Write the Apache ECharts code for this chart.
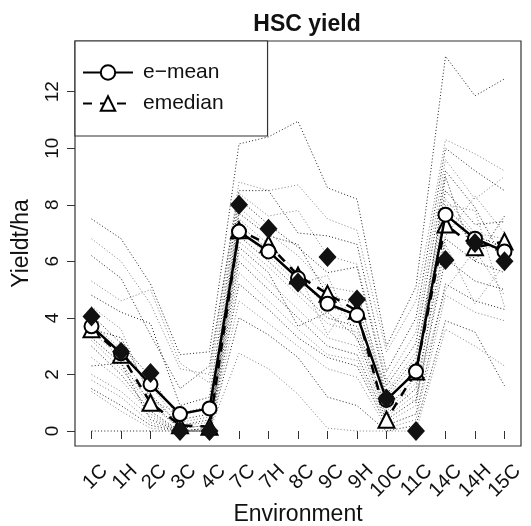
<!DOCTYPE html>
<html>
<head>
<meta charset="utf-8">
<script src="https://cdn.jsdelivr.net/npm/echarts@6/dist/echarts.min.js"></script>
<style>
html,body{margin:0;padding:0;background:#fff;}
#chart{width:531px;height:526px;}
</style>
</head>
<body>
<div id="chart"></div>
<script>
const environments = ['1C','1H','2C','3C','4C','7C','7H','8C','9C','9H','10C','11C','14C','14H','15C'];
const yTicks = [0, 2, 4, 6, 8, 10, 12];

const eMean   = [3.7, 2.75, 1.65, 0.6, 0.8, 7.05, 6.35, 5.4, 4.5, 4.1, 1.1, 2.1, 7.65, 6.8, 6.35];
const eMedian = [3.6, 2.7, 1.0, 0.2, 0.15, 7.1, 6.6, 5.5, 4.85, 4.25, 0.4, 2.1, 7.3, 6.5, 6.7];
const checkVariety = [4.05, 2.8, 2.05, 0.0, 0.0, 8.0, 7.15, 5.25, 6.15, 4.65, 1.15, 0.0, 6.05, 6.65, 6.0];

const g01 = [7.5, 6.8, 5.2, 2.7, 2.8, 10.15, 10.4, 10.95, 8.6, 8.2, 3.0, 5.1, 13.25, 11.85, 12.45];
const g02 = [6.8, 6.0, 4.5, 2.2, 2.0, 8.8, 8.5, 8.7, 7.5, 7.1, 2.8, 4.6, 10.3, 9.8, 9.2];
const g03 = [6.2, 5.4, 3.4, 1.5, 2.3, 8.5, 8.5, 7.0, 6.9, 6.6, 2.1, 4.0, 10.0, 9.2, 8.5];
const g04 = [5.3, 4.6, 5.0, 2.4, 1.7, 8.4, 7.6, 7.8, 6.2, 5.9, 1.8, 3.5, 9.6, 8.2, 9.0];
const g05 = [4.8, 4.2, 3.8, 0.9, 1.2, 8.2, 7.3, 6.5, 5.6, 5.8, 1.6, 3.1, 9.2, 7.9, 6.0];
const g06 = [4.4, 3.6, 1.1, 0.6, 0.9, 7.9, 7.0, 6.2, 5.1, 4.9, 1.4, 2.8, 6.9, 8.3, 7.0];
const g07 = [4.1, 3.1, 1.9, 0.4, 0.6, 7.7, 6.9, 6.6, 4.8, 4.5, 1.3, 2.6, 8.5, 7.3, 7.4];
const g08 = [3.8, 2.9, 1.6, 0.3, 0.5, 7.5, 6.6, 5.6, 3.4, 5.0, 1.2, 2.4, 8.2, 7.0, 6.8];
const g09 = [3.6, 3.3, 1.3, 0.2, 0.4, 7.3, 6.4, 5.4, 4.4, 4.1, 1.0, 2.2, 7.9, 6.9, 6.5];
const g10 = [3.5, 2.6, 1.2, 0.2, 0.3, 7.1, 6.2, 5.2, 5.5, 3.2, 1.8, 1.0, 7.7, 6.6, 6.4];
const g11 = [3.3, 2.4, 1.0, 0.1, 0.2, 6.9, 6.0, 5.0, 4.0, 3.7, 0.8, 1.9, 9.0, 6.0, 7.6];
const g12 = [3.2, 2.2, 0.9, 0.1, 0.2, 6.7, 5.8, 4.8, 3.8, 3.5, 0.7, 1.7, 8.0, 7.8, 4.4];
const g13 = [3.0, 2.0, 0.7, 0.0, 0.1, 6.5, 5.6, 3.7, 4.2, 3.3, 0.6, 1.5, 6.8, 6.0, 5.6];
const g14 = [2.6, 1.8, 0.6, 0.0, 0.1, 6.3, 5.3, 4.3, 3.3, 3.0, 0.5, 1.3, 5.0, 6.4, 4.8];
const g15 = [2.3, 2.4, 0.4, 0.0, 0.0, 6.0, 5.0, 4.0, 3.0, 2.7, 0.4, 1.1, 6.1, 5.3, 5.0];
const g16 = [1.8, 1.2, 0.3, 0.0, 0.0, 5.6, 4.6, 3.6, 2.7, 2.5, 0.3, 0.9, 6.6, 4.5, 5.9];
const g17 = [1.5, 0.9, 0.2, 0.0, 0.0, 5.2, 4.3, 3.3, 2.6, 2.3, 0.2, 0.6, 5.2, 4.6, 4.3];
const g18 = [1.4, 0.7, 0.1, 0.0, 0.0, 4.6, 3.8, 3.0, 2.2, 1.9, 0.1, 0.4, 4.8, 4.2, 3.9];
const g19 = [0.0, 0.0, 0.0, 0.0, 0.0, 4.0, 3.4, 2.6, 1.2, 0.9, 0.0, 0.2, 3.9, 3.5, 1.6];
const g20 = [2.0, 1.4, 0.5, 0.0, 0.0, 2.75, 2.2, 1.3, 0.1, 0.0, 0.0, 0.0, 3.6, 3.0, 2.3];

const genotypes = [g01,g02,g03,g04,g05,g06,g07,g08,g09,g10,g11,g12,g13,g14,g15,g16,g17,g18,g19,g20];

const FONT = 'Liberation Sans';
const xPositions = environments.map((_, i) => i + 1);
const toPairs = arr => arr.map((v, i) => [i + 1, v]);

const series = [];
genotypes.forEach((g, k) => {
  series.push({
    type: 'line',
    name: 'g' + (k + 1),
    data: toPairs(g),
    xAxisIndex: 0,
    symbol: 'none',
    silent: true,
    z: 1,
    lineStyle: { width: 1, type: [1, 2.2], color: k % 2 === 0 ? '#222' : '#808080' }
  });
});
series.push({
  type: 'line', name: 'emedian', data: toPairs(eMedian), xAxisIndex: 0,
  symbol: 'emptyTriangle', symbolSize: 16, z: 3,
  itemStyle: { color: '#000', borderWidth: 2 },
  lineStyle: { width: 2.5, type: [9, 8], color: '#000' }
});
series.push({
  type: 'line', name: 'e\u2212mean', data: toPairs(eMean), xAxisIndex: 0,
  symbol: 'emptyCircle', symbolSize: 14, z: 4,
  itemStyle: { color: '#000', borderWidth: 2 },
  lineStyle: { width: 2.5, type: 'solid', color: '#000' }
});
series.push({
  type: 'scatter', name: 'check', data: toPairs(checkVariety), xAxisIndex: 0,
  symbol: 'diamond', symbolSize: [18, 20], z: 5,
  itemStyle: { color: '#111', opacity: 1 }
});

const chart = echarts.init(document.getElementById('chart'), null, { renderer: 'canvas' });
chart.setOption({
  animation: false,
  backgroundColor: '#fff',
  textStyle: { fontFamily: FONT },
  title: {
    text: 'HSC yield', left: 302, top: 8, textAlign: 'center',
    textStyle: { fontFamily: FONT, fontWeight: 'bold', fontSize: 23, color: '#111' }
  },
  legend: {
    data: ['e\u2212mean', 'emedian'],
    orient: 'vertical', left: 75, top: 41,
    padding: [21, 44, 22, 7],
    itemWidth: 50, itemHeight: 18, itemGap: 10,
    backgroundColor: '#fff', borderColor: '#333', borderWidth: 1.2, borderRadius: 0,
    textStyle: { fontFamily: FONT, fontSize: 21, color: '#111', padding: [0, 0, 0, 5] }
  },
  grid: {
    left: 75, top: 41, right: 10, bottom: 80,
    containLabel: false, outerBoundsMode: 'none',
    show: true, borderColor: '#333', borderWidth: 1.2, backgroundColor: 'transparent'
  },
  xAxis: [{
    type: 'value', min: 0.44, max: 15.56,
    name: 'Environment', nameLocation: 'middle', nameGap: 57,
    nameTextStyle: { fontFamily: FONT, fontSize: 23, color: '#111' },
    axisLine: { show: false },
    splitLine: { show: false },
    axisTick: { show: true, length: 8, inside: false, customValues: xPositions, lineStyle: { color: '#333', width: 1 } },
    axisLabel: { show: false }
  }, {
    type: 'value', min: 0.0, max: 15.12, position: 'bottom',
    axisLine: { show: false }, splitLine: { show: false }, axisTick: { show: false },
    axisLabel: {
      show: true, rotate: 45, margin: 22, customValues: xPositions,
      fontFamily: FONT, fontSize: 20, color: '#111',
      formatter: v => environments[Math.round(v) - 1] || ''
    }
  }],
  yAxis: {
    type: 'value', min: -0.53, max: 13.79,
    name: 'Yieldt/ha', nameLocation: 'middle', nameGap: 42, nameRotate: 90,
    nameTextStyle: { fontFamily: FONT, fontSize: 23, color: '#111' },
    axisLine: { show: false },
    splitLine: { show: false },
    axisTick: { show: true, length: 8, inside: false, customValues: yTicks, lineStyle: { color: '#333', width: 1 } },
    axisLabel: {
      show: true, rotate: 90, margin: 13, customValues: yTicks,
      fontFamily: FONT, fontSize: 19, color: '#111',
      formatter: v => String(Math.round(v))
    }
  },
  series: series
});
</script>
</body>
</html>
